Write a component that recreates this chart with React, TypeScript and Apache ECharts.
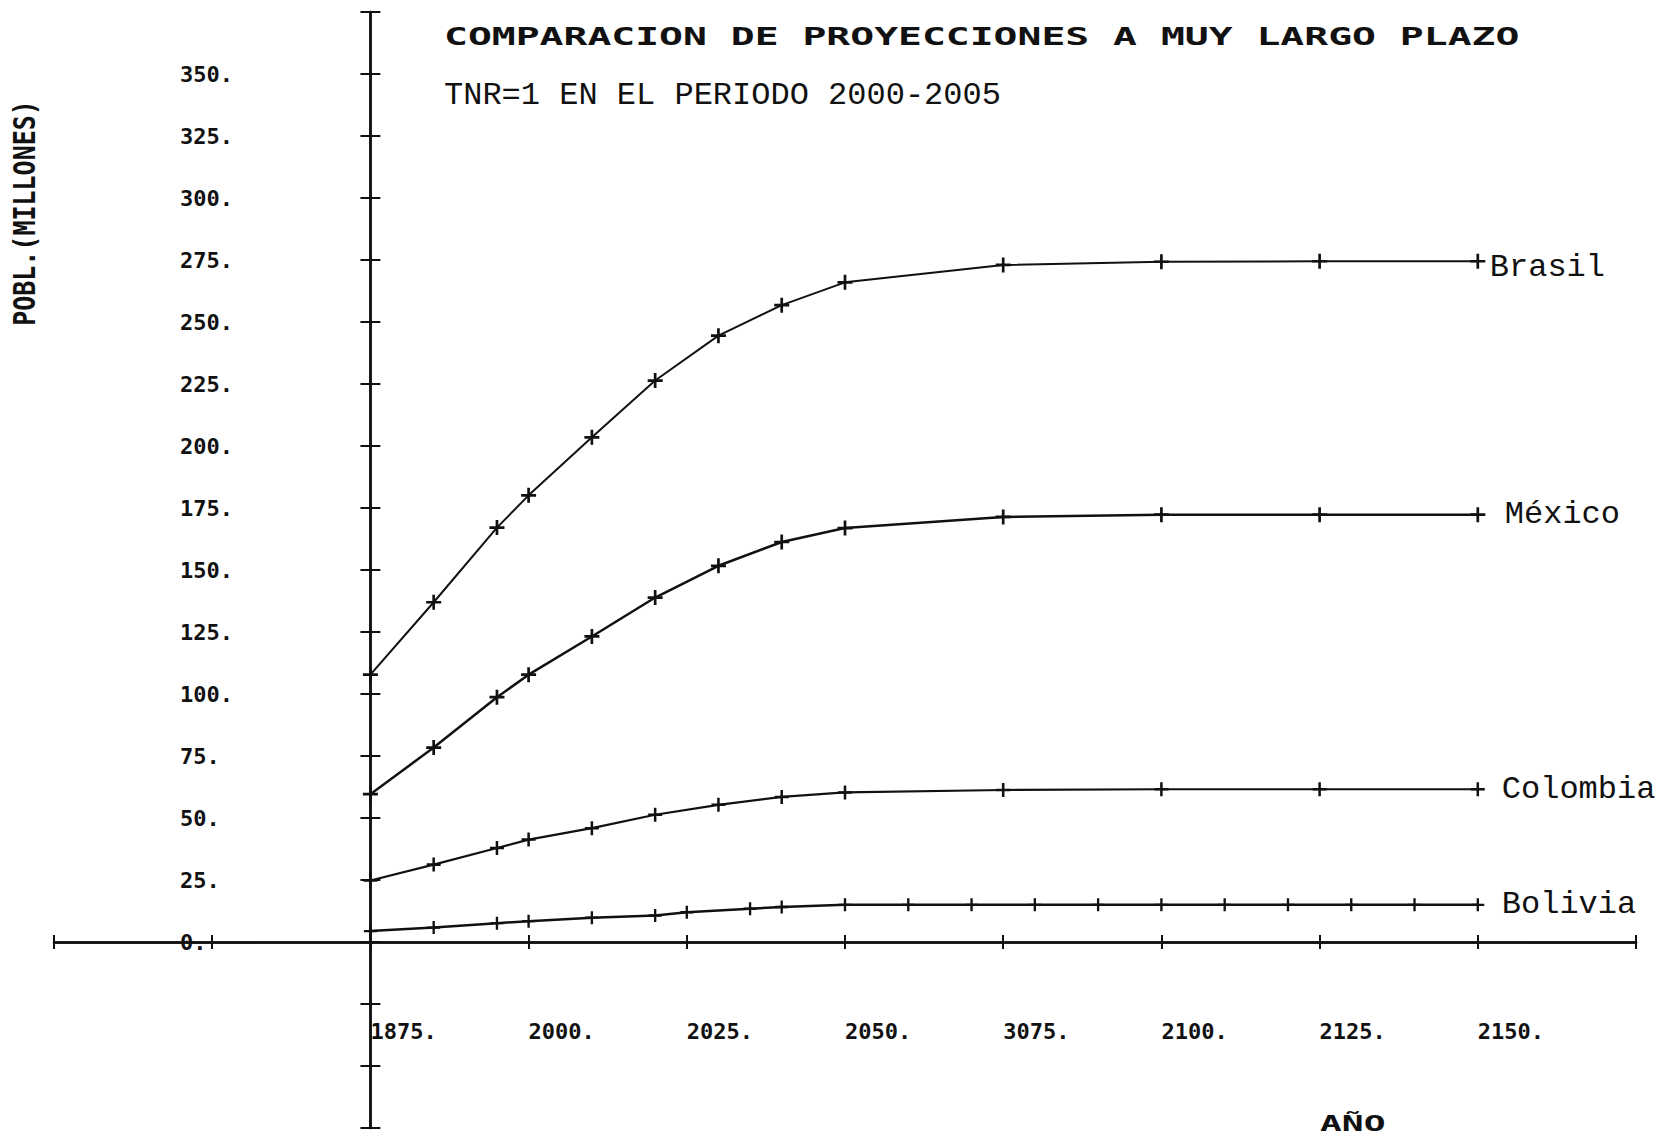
import React, { useEffect, useRef } from "react";
import * as echarts from "echarts";

// ---------- data ----------
const BASE_YEAR = 1975; // year where the vertical axis crosses

const yearsMain = [1975, 1985, 1995, 2000, 2010, 2020, 2030, 2040, 2050, 2075, 2100, 2125, 2150];
const brasil = [107.8, 137.0, 167.1, 180.1, 203.5, 226.4, 244.5, 256.8, 266.0, 273.0, 274.3, 274.5, 274.5];
const mexico = [59.6, 78.4, 98.7, 107.8, 123.2, 138.9, 151.7, 161.3, 166.9, 171.4, 172.3, 172.3, 172.3];
const colombia = [24.8, 31.2, 37.9, 41.3, 45.9, 51.3, 55.3, 58.5, 60.3, 61.3, 61.6, 61.6, 61.6];

const yearsBolivia = [1975, 1985, 1995, 2000, 2010, 2020, 2025, 2035, 2040, 2050, 2060, 2070, 2080, 2090, 2100, 2110, 2120, 2130, 2140, 2150];
const bolivia = [4.4, 5.8, 7.6, 8.4, 9.8, 10.7, 12.0, 13.4, 14.1, 15.0, 15.0, 15.0, 15.0, 15.0, 15.0, 15.0, 15.0, 15.0, 15.0, 15.0];

const xTickYears = [1975, 2000, 2025, 2050, 2075, 2100, 2125, 2150];
const xTickLabels = ["1875.", "2000.", "2025.", "2050.", "3075.", "2100.", "2125.", "2150."];
const yTickValues = [0, 25, 50, 75, 100, 125, 150, 175, 200, 225, 250, 275, 300, 325, 350];
const yTickLabels = ["0.", "25.", "50.", "75.", "100.", "125.", "150.", "175.", "200.", "225.", "250.", "275.", "300.", "325.", "350."];

const TITLE = "COMPARACION DE PROYECCIONES A MUY LARGO PLAZO";
const SUBTITLE = "TNR=1 EN EL PERIODO 2000-2005";
const Y_NAME = "POBL.(MILLONES)";
const X_NAME = "AÑO";

// ---------- styling ----------
const INK = "#111111";
const DOT = "DejaVu Sans Mono";
const TYPE = "Liberation Mono";
const PLUS = "path://M8.2,0H11.8V8.2H20V11.8H11.8V20H8.2V11.8H0V8.2H8.2Z";

const GRID = { left: 54, right: 35, top: 12, bottom: 8 };

function makeSeries(name: string, years: number[], vals: number[], o: { size: number; lw: number; dist: number; dy: number }) {
  return {
    name,
    type: "line",
    xAxisIndex: 0,
    yAxisIndex: 0,
    data: years.map((y, i) => [y - BASE_YEAR, vals[i]]),
    symbol: PLUS,
    symbolSize: o.size,
    showAllSymbol: true,
    silent: true,
    lineStyle: { color: INK, width: o.lw },
    itemStyle: { color: INK },
    emphasis: { disabled: true },
    endLabel: {
      show: true,
      formatter: "{a}",
      distance: o.dist,
      offset: [0, o.dy],
      color: INK,
      fontFamily: TYPE,
      fontSize: 32,
    },
    z: 3,
  };
}

export default function App() {
  const ref = useRef<HTMLDivElement>(null);

  useEffect(() => {
    if (!ref.current) return;
    const chart = echarts.init(ref.current, undefined, { renderer: "svg" });
    const axisLine = { show: true, onZero: true, onZeroAxisIndex: 0, lineStyle: { color: INK, width: 2.5 } };
    const tickStyle = { color: INK, width: 2 };
    const labelFont = { fontFamily: DOT, fontWeight: "bold", fontSize: 22, color: INK };
    const xRange = { type: "value", min: -50, max: 200, interval: 25, splitLine: { show: false } };
    const yRange = { type: "value", min: -75, max: 375, interval: 25, splitLine: { show: false } };

    chart.setOption({
      animation: false,
      backgroundColor: "#ffffff",
      textStyle: { fontFamily: DOT },
      grid: { ...GRID, containLabel: false, outerBoundsMode: "none" },
      xAxis: [
        // axis line through y = 0, ticks pointing down
        { ...xRange, position: "bottom", axisLine, axisTick: { show: true, length: 7, lineStyle: tickStyle }, axisLabel: { show: false } },
        // same line, ticks pointing up
        { ...xRange, position: "top", axisLine, axisTick: { show: true, length: 7, lineStyle: tickStyle }, axisLabel: { show: false } },
        // tick labels, placed from the grid's bottom edge
        {
          ...xRange,
          position: "bottom",
          axisLine: { show: false, onZero: false },
          axisTick: { show: false },
          axisLabel: {
            show: true,
            formatter: (v: number) => {
              const i = xTickYears.indexOf(v + BASE_YEAR);
              return i >= 0 ? xTickLabels[i] : "";
            },
            align: "left",
            verticalAlign: "middle",
            margin: -97,
            ...labelFont,
          },
        },
      ],
      yAxis: [
        // axis line through year 1975, ticks pointing left
        { ...yRange, position: "left", axisLine, axisTick: { show: true, length: 10, lineStyle: tickStyle }, axisLabel: { show: false } },
        // same line, ticks pointing right
        { ...yRange, position: "right", axisLine, axisTick: { show: true, length: 10, lineStyle: tickStyle }, axisLabel: { show: false } },
        // tick labels, placed from the grid's left edge
        {
          ...yRange,
          position: "left",
          axisLine: { show: false, onZero: false },
          axisTick: { show: false },
          axisLabel: {
            show: true,
            formatter: (v: number) => {
              const i = yTickValues.indexOf(v);
              return i >= 0 ? yTickLabels[i] : "";
            },
            align: "left",
            verticalAlign: "middle",
            margin: -126,
            padding: [0, 0, 10, 0],
            ...labelFont,
          },
        },
      ],
      series: [
        makeSeries("Brasil", yearsMain, brasil, { size: 15, lw: 2, dist: 12, dy: 6 }),
        makeSeries("México", yearsMain, mexico, { size: 15, lw: 2.5, dist: 27, dy: 0 }),
        makeSeries("Colombia", yearsMain, colombia, { size: 14, lw: 2.2, dist: 24, dy: 0 }),
        makeSeries("Bolivia", yearsBolivia, bolivia, { size: 13, lw: 2.5, dist: 24, dy: 0 }),
      ],
      graphic: [
        {
          type: "text",
          x: 444,
          y: 37,
          scaleX: 1.654,
          silent: true,
          style: { text: TITLE, fontFamily: DOT, fontWeight: "bold", fontSize: 24, fill: INK, align: "left", verticalAlign: "middle" },
        },
        {
          type: "text",
          x: 444,
          y: 95,
          silent: true,
          style: { text: SUBTITLE, fontFamily: TYPE, fontSize: 32, fill: INK, align: "left", verticalAlign: "middle" },
        },
        {
          type: "text",
          x: 25,
          y: 213,
          rotation: Math.PI / 2,
          scaleY: 1.2,
          silent: true,
          style: { text: Y_NAME, fontFamily: DOT, fontWeight: "bold", fontSize: 25, fill: INK, align: "center", verticalAlign: "middle" },
        },
        {
          type: "text",
          x: 1320,
          y: 1123,
          scaleX: 1.65,
          silent: true,
          style: { text: X_NAME, fontFamily: DOT, fontWeight: "bold", fontSize: 22, fill: INK, align: "left", verticalAlign: "middle" },
        },
      ],
    });

    return () => chart.dispose();
  }, []);

  return (
    <div
      ref={ref}
      style={{ position: "absolute", left: 0, top: 0, width: 1671, height: 1136, background: "#fff" }}
    />
  );
}
